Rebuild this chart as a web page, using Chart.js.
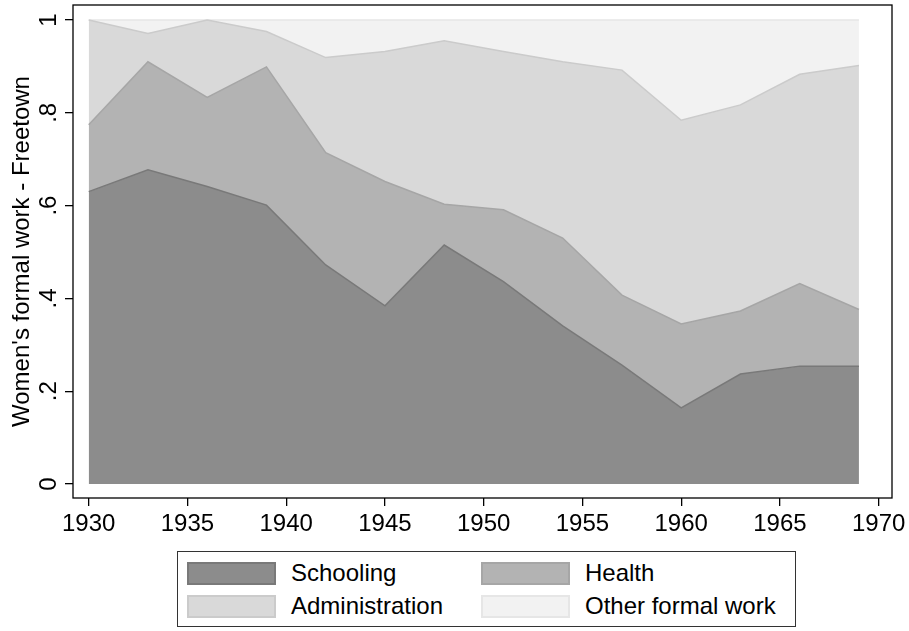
<!DOCTYPE html>
<html>
<head>
<meta charset="utf-8">
<script src="https://cdn.jsdelivr.net/npm/chart.js@4.4.0/dist/chart.umd.min.js"></script>
<style>
  body { margin: 0; background: #fff; font-family: "Liberation Sans", Arial, Helvetica, sans-serif; }
  #wrap { position: relative; width: 909px; height: 631px; }
  #legend {
    position: absolute; left: 177px; top: 551px; width: 619px; height: 76px;
    border: 1px solid #333; box-sizing: border-box; background: #fff;
  }
  .item { position: absolute; height: 24px; font-size: 24px; line-height: 24px; color: #000; white-space: nowrap; }
  .swatch { position: absolute; left: 0; top: 0; width: 89px; height: 23px; box-sizing: border-box; border: 2px solid; }
  .lbl { position: absolute; left: 104px; top: -1px; }
</style>
</head>
<body>
<div id="wrap">
  <canvas id="myChart" width="909" height="631"></canvas>
  <div id="legend"></div>
</div>
<script>
    const years = [1930, 1933, 1936, 1939, 1942, 1945, 1948, 1951, 1954, 1957, 1960, 1963, 1966, 1969];
    // shares of women's formal work, stacked to 1
    const schooling = [0.630, 0.677, 0.641, 0.601, 0.472, 0.384, 0.515, 0.436, 0.341, 0.256, 0.164, 0.237, 0.254, 0.254];
    const health = [0.144, 0.233, 0.192, 0.298, 0.242, 0.268, 0.088, 0.155, 0.189, 0.151, 0.181, 0.136, 0.178, 0.122];
    const administration = [0.226, 0.061, 0.167, 0.076, 0.205, 0.280, 0.352, 0.341, 0.380, 0.485, 0.439, 0.444, 0.451, 0.526];
    const otherWork = [0.000, 0.029, 0.000, 0.025, 0.081, 0.068, 0.045, 0.068, 0.090, 0.108, 0.216, 0.183, 0.117, 0.098];

    const seriesNames = ["Schooling", "Health", "Administration", "Other formal work"];
    const xTicks = [1930, 1935, 1940, 1945, 1950, 1955, 1960, 1965, 1970];
    const yTicks = [0, 0.2, 0.4, 0.6, 0.8, 1];
    const yTickLabels = ["0", ".2", ".4", ".6", ".8", "1"];

    const fills = ["#8c8c8c", "#b3b3b3", "#d9d9d9", "#f2f2f2"];
    const edges = ["#797979", "#a6a6a6", "#cbcbcb", "#e6e6e6"];
    const font = { family: "'Liberation Sans', Arial, Helvetica, sans-serif", size: 24 };

    const series = [schooling, health, administration, otherWork];
    const datasets = series.map(function (arr, k) {
      return {
        label: seriesNames[k],
        data: years.map(function (yr, i) { return { x: yr, y: arr[i] }; }),
        backgroundColor: fills[k],
        borderColor: edges[k],
        borderWidth: 1.5,
        fill: k === 0 ? "origin" : "-1",
        pointRadius: 0,
        tension: 0
      };
    });

    const framePlugin = {
      id: "frame",
      afterDatasetsDraw: function (chart) {
        const a = chart.chartArea, ctx = chart.ctx;
        ctx.save();
        ctx.strokeStyle = "#000";
        ctx.lineWidth = 1.3;
        ctx.strokeRect(a.left, a.top, a.right - a.left, a.bottom - a.top);
        ctx.restore();
      }
    };

    function noPad(s) {
      s.paddingTop = 0; s.paddingBottom = 0; s.paddingLeft = 0; s.paddingRight = 0;
    }

    new Chart("myChart", {
      type: "line",
      data: { datasets: datasets },
      plugins: [framePlugin],
      options: {
        responsive: false,
        animation: false,
        devicePixelRatio: 1,
        layout: { padding: { left: 0, top: 5, right: 17, bottom: 0 } },
        plugins: { legend: { display: false }, tooltip: { enabled: false } },
        scales: {
          x: {
            type: "linear",
            min: 1929.205,
            max: 1970.673,
            afterBuildTicks: function (s) { s.ticks = xTicks.map(function (v) { return { value: v }; }); },
            afterFit: function (s) { s.height = 133; noPad(s); },
            grid: { drawOnChartArea: false, drawTicks: true, tickLength: 8, color: "#000", lineWidth: 1.3 },
            border: { display: false },
            ticks: { font: font, color: "#000", padding: 4, maxRotation: 0, callback: function (v) { return String(v); } }
          },
          y: {
            type: "linear",
            stacked: true,
            min: -0.0302,
            max: 1.0323,
            afterBuildTicks: function (s) { s.ticks = yTicks.map(function (v) { return { value: v }; }); },
            afterFit: function (s) { s.width = 73; noPad(s); },
            grid: { drawOnChartArea: false, drawTicks: true, tickLength: 8, color: "#000", lineWidth: 1.3 },
            border: { display: false },
            ticks: {
              font: font, color: "#000", padding: 6, minRotation: 90, maxRotation: 90, crossAlign: "center",
              callback: function (v, i) { return yTickLabels[i]; }
            },
            title: { display: true, text: "Women's formal work - Freetown", font: font, color: "#000", padding: { top: 8, bottom: 0 } }
          }
        }
      }
    });

    // legend, two columns like the original
    const legend = document.getElementById("legend");
    const spots = [[9, 10], [303, 10], [9, 43], [303, 43]];
    seriesNames.forEach(function (name, k) {
      const it = document.createElement("div");
      it.className = "item";
      it.style.left = spots[k][0] + "px";
      it.style.top = spots[k][1] + "px";
      it.innerHTML = '<div class="swatch" style="background:' + fills[k] + ';border-color:' + edges[k] + '"></div><span class="lbl">' + name + '</span>';
      legend.appendChild(it);
    });
</script>
</body>
</html>
